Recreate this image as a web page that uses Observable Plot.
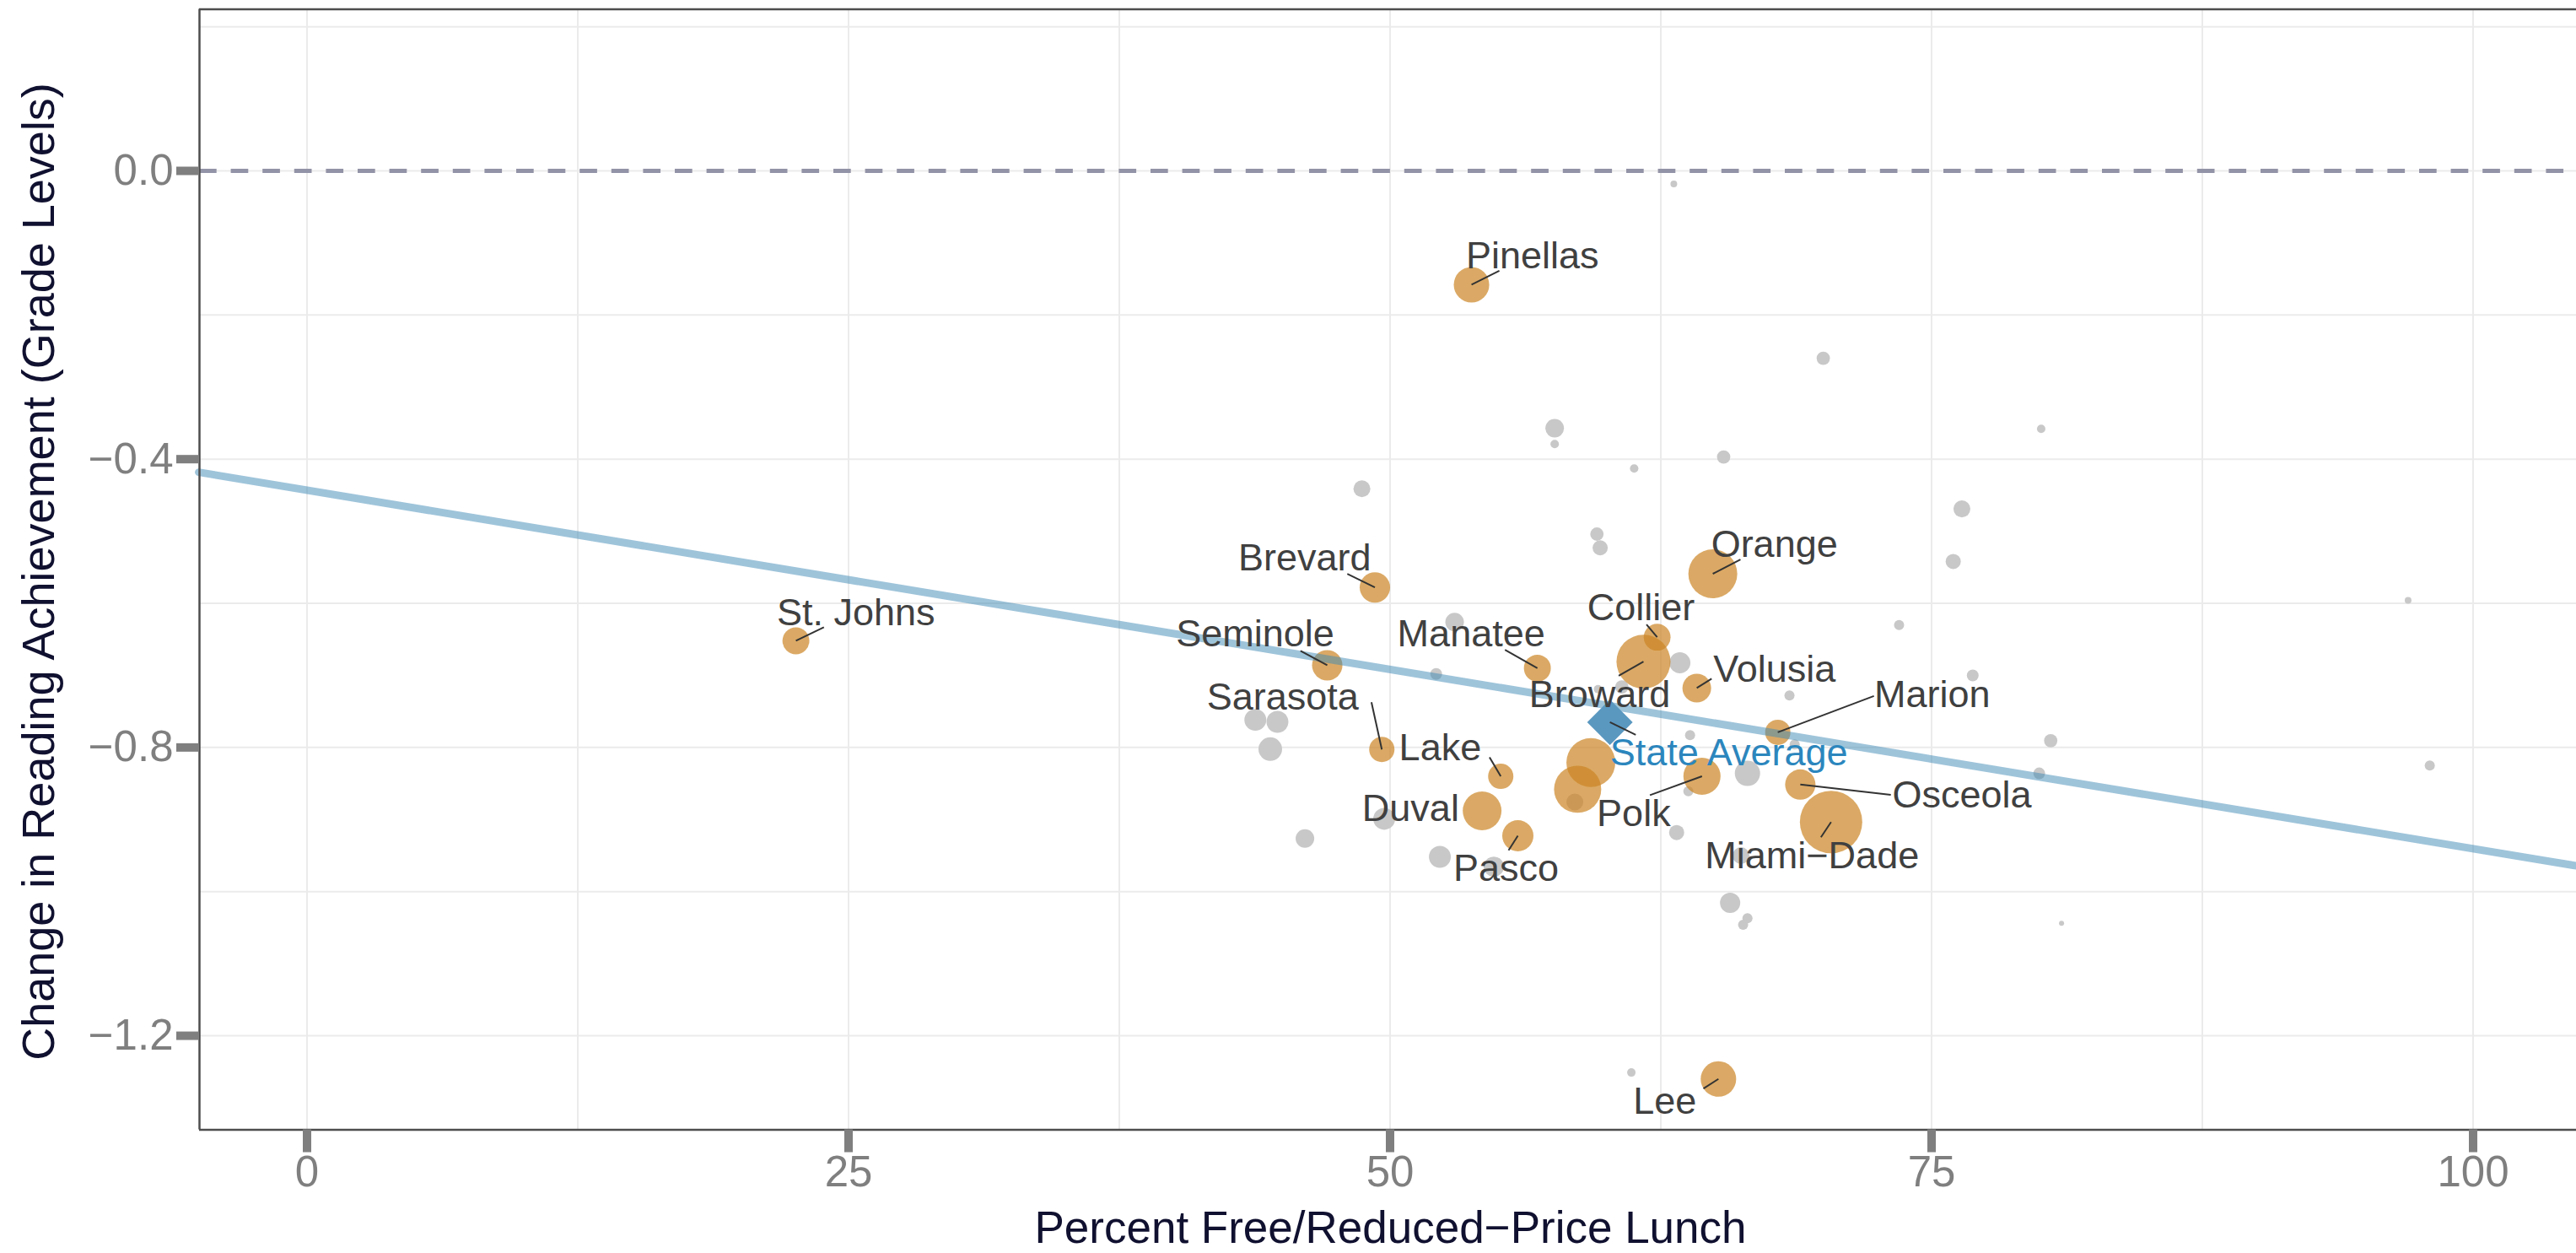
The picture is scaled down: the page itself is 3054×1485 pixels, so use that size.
<!DOCTYPE html>
<html><head><meta charset="utf-8">
<script src="https://cdn.jsdelivr.net/npm/d3@7"></script>
<script src="https://cdn.jsdelivr.net/npm/@observablehq/plot@0.6"></script>
<style>
html,body{margin:0;padding:0;background:#fff;}
#chart svg{display:block;}
</style></head><body><div id="chart"></div>
<script>
// ---------------- data ----------------
// Highlighted (large) counties: % free/reduced-price lunch, change in reading achievement, enrollment (thousands)
const focusCounty = ["Pinellas","St. Johns","Brevard","Orange","Seminole","Manatee","Collier","Broward","Volusia","Marion",
  "Sarasota","Lake","Duval","Pasco","Polk","Osceola","Miami\u2212Dade","Lee","Hillsborough","Palm Beach"];
const focusFRL = [53.76,22.57,49.3,64.9,47.1,56.8,62.33,61.7,64.16,67.9,
  49.62,55.11,54.25,55.9,64.4,68.94,70.36,65.16,59.27,58.66];
const focusChange = [-0.158,-0.652,-0.578,-0.559,-0.686,-0.690,-0.647,-0.681,-0.7176,-0.779,
  -0.8027,-0.840,-0.888,-0.9225,-0.840,-0.8515,-0.9035,-1.260,-0.821,-0.858];
const focusEnroll = [113,65,83,215,83,65,65,262,74,57.5,
  57.5,57.5,135,87.5,124,83,350,113,215,200];
// counties whose labels appear in the reference (Hillsborough & Palm Beach are unlabeled)
const labeledCounties = ["Pinellas","St. Johns","Brevard","Orange","Seminole","Manatee","Collier","Broward","Volusia","Marion",
  "Sarasota","Lake","Duval","Pasco","Polk","Osceola","Miami\u2212Dade","Lee"];

// Other counties (grey)
const otherFRL = [63.1,57.6,57.6,61.27,65.4,48.7,59.55,59.7,70.0,80.06,76.4,76.0,73.5,97.0,76.9,68.44,80.5,98.0,79.97,66.5,
  65.7,66.5,66.3,81.0,66.2,63.38,60.7,59.6,63.85,68.68,58.53,63.77,63.23,52.98,52.13,43.78,44.8,44.47,46.07,49.73,52.3,54.79,61.14];
const otherChange = [-0.018,-0.357,-0.379,-0.413,-0.397,-0.441,-0.504,-0.523,-0.260,-0.358,-0.469,-0.542,-0.630,-0.596,-0.700,-0.728,-0.7906,-0.825,-0.836,-0.836,
  -1.0157,-1.037,-1.046,-1.044,-0.950,-0.6825,-0.716,-0.719,-0.7828,-0.7957,-0.8757,-0.8608,-0.918,-0.626,-0.698,-0.7617,-0.7645,-0.8023,-0.9264,-0.899,-0.9518,-0.9654,-1.251];
const otherEnroll = [4.1,31,6.4,6.4,16,25.6,16,20.7,16,6.4,25.6,20.7,9.2,4.1,12.5,9.2,16,9.2,12.5,57.5,
  36.8,9.2,9.2,2.3,25.6,40,16,6.4,9.2,9.2,25.6,9.2,20.7,31,12.5,43,43,50,31,43,43,36.8,6.4];

// State average
const stateLabel = "State Average";
const stateFRL = 60.15;
const stateChange = -0.765;

// Fitted regression line
const fitIntercept = -0.443;
const fitSlope = -0.004975;

// Axes
const xTicks = [0,25,50,75,100];
const xGrid = [0,12.5,25,37.5,50,62.5,75,87.5,100];
const yTicks = [0,-0.4,-0.8,-1.2];
const yGrid = [0.2,0,-0.2,-0.4,-0.6,-0.8,-1.0,-1.2];
const xTitle = "Percent Free/Reduced\u2212Price Lunch";
const yTitle = "Change in Reading Achievement (Grade Levels)";

// ---------------- layout ----------------
const W = 3054, H = 1485;
const ML = 236, MT = 10.5, MB = 146.5, MR = 0;
const xDomain = [-5, 105], xRange = [235.1, 3059.9];
const yDomain = [-1.3305, 0.2242], yRange = [1338.5, 10.5];
const kx = (xRange[1]-xRange[0])/(xDomain[1]-xDomain[0]);
const ky = (yRange[0]-yRange[1])/(yDomain[1]-yDomain[0]);

// repelled-label placement, in pixels relative to the point: [text left dx, baseline dy, segment end dx, segment end dy]
const labelNudge = {
  "Pinellas": [-6.6,-19,33,-16.7],
  "St. Johns": [-22.6,-18.6,33.2,-16],
  "Brevard": [-162,-20,-32.7,-16],
  "Orange": [-2,-20,32.8,-16.8],
  "Seminole": [-179.3,-22.3,-31.7,-17.1],
  "Manatee": [-166,-25.7,-38.4,-21.7],
  "Collier": [-83,-20,-12.6,-15],
  "Broward": [-135.7,53.4,-29.4,16.7],
  "Volusia": [19.6,-7.7,17.6,-11],
  "Marion": [114.3,-29.6,114,-43.1],
  "Sarasota": [-207.6,-47,-12.3,-56],
  "Lake": [-120.6,-18.6,-13.3,-22.6],
  "Duval": [-142.3,12,null,null],
  "Pasco": [-76.5,54,-11,17.3],
  "Polk": [-124.7,59,-61.7,22.4],
  "Osceola": [109,27.1,107.3,12.1],
  "Miami\u2212Dade": [-149.5,54.7,-12,18],
  "Lee": [-101,41.3,-17.8,11.3],
  "State Average": [0,51,30.6,15]
};

const FONT = "'Liberation Sans', Arial, Helvetica, sans-serif";
const ORANGE = "#cc8424", GREY = "#c8c8c8", BLUE = "#3d8ab5";

// ---------------- build ----------------
const other = otherFRL.map((x,i)=>({x, y: otherChange[i], n: otherEnroll[i]}));
const focus = focusCounty.map((name,i)=>({name, x: focusFRL[i], y: focusChange[i], n: focusEnroll[i]}));
const state = [{name: stateLabel, x: stateFRL, y: stateChange}];

function place(d){
  const [tx,ty,sx,sy] = labelNudge[d.name];
  return {...d, lx: d.x + tx/kx, ly: d.y - ty/ky,
    sx: sx==null ? null : d.x + sx/kx, sy: sy==null ? null : d.y - sy/ky};
}
const countyLabels = focus.filter(d => labeledCounties.includes(d.name)).map(place);
const stateLabels = state.map(place);
const segs = countyLabels.concat(stateLabels).filter(d => d.sx != null);

const chart = Plot.plot({
  width: W, height: H,
  marginLeft: ML, marginTop: MT, marginBottom: MB, marginRight: MR,
  style: {fontFamily: FONT, background: "#fff", overflow: "hidden"},
  x: {domain: xDomain, range: xRange},
  y: {domain: yDomain, range: yRange},
  r: {type: "sqrt", domain: [0, 400], range: [0, 39.56]},
  marks: [
    Plot.gridX(xGrid, {stroke: "#ebebeb", strokeOpacity: 1, strokeWidth: 2}),
    Plot.gridY(yGrid, {stroke: "#ebebeb", strokeOpacity: 1, strokeWidth: 2}),
    Plot.ruleY([0], {stroke: "#9393a7", strokeWidth: 5, strokeDasharray: "20.7,16.9"}),
    Plot.dot(other, {x: "x", y: "y", r: "n", fill: GREY}),
    Plot.dot(focus, {x: "x", y: "y", r: "n", fill: ORANGE, fillOpacity: 0.7}),
    Plot.line(xDomain, {x: d => d, y: d => fitIntercept + fitSlope*d, stroke: BLUE, strokeOpacity: 0.5, strokeWidth: 9}),
    Plot.dot(state, {x: "x", y: "y", symbol: "diamond2", r: 24.3, fill: "#5a98c0", stroke: "none"}),
    Plot.link(segs, {x1: "x", y1: "y", x2: "sx", y2: "sy", stroke: "#333", strokeWidth: 2}),
    Plot.text(countyLabels, {x: "lx", y: "ly", text: "name", textAnchor: "start", lineAnchor: "bottom", fontSize: 45, fill: "#404040"}),
    Plot.text(stateLabels, {x: "lx", y: "ly", text: "name", textAnchor: "start", lineAnchor: "bottom", fontSize: 45, fill: "#2c86bd"}),
    Plot.ruleY([yDomain[1], yDomain[0]], {stroke: "#4d4d4d", strokeWidth: 2.5}),
    Plot.ruleX([xDomain[0]], {stroke: "#4d4d4d", strokeWidth: 2.5, dx: 0.9}),
    Plot.axisX(xTicks, {tickSize: 27, tickPadding: 3.5, strokeWidth: 10, stroke: "#7f7f7f", fill: "#7f7f7f", fontSize: 51, label: null, tickFormat: d => String(d)}),
    Plot.axisY(yTicks, {tickSize: 27, tickPadding: 4, strokeWidth: 10, stroke: "#7f7f7f", fill: "#7f7f7f", fontSize: 51, label: null, tickFormat: d3.format(".1f")}),
    Plot.text([xTitle], {frameAnchor: "bottom", dy: 117, dx: 3, fontSize: 53, fill: "#101030", lineAnchor: "middle", textAnchor: "middle"}),
    Plot.text([yTitle], {frameAnchor: "left", rotate: -90, dx: -189.3, dy: 2.5, fontSize: 54, fill: "#101030", lineAnchor: "middle", textAnchor: "middle"})
  ]
});
document.getElementById("chart").appendChild(chart);
</script>
</body></html>
